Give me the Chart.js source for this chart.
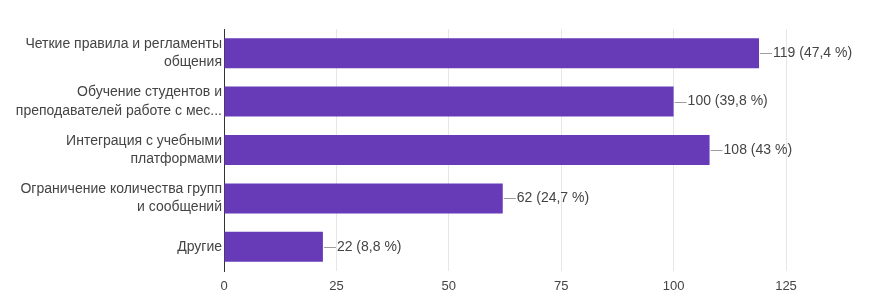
<!DOCTYPE html>
<html>
<head>
<meta charset="utf-8">
<script src="https://cdn.jsdelivr.net/npm/chart.js@4/dist/chart.umd.min.js"></script>
<style>
  html, body { margin: 0; padding: 0; background: #fff; }
  #wrap { width: 873px; height: 295px; position: relative; }
</style>
</head>
<body>
<div id="wrap"><canvas id="chart"></canvas></div>
<script>
// категории (многострочные подписи)
const categories = [
  ["Четкие правила и регламенты", "общения"],
  ["Обучение студентов и", "преподавателей работе с мес..."],
  ["Интеграция с учебными", "платформами"],
  ["Ограничение количества групп", "и сообщений"],
  ["Другие"]
];
const counts = [119, 100, 108, 62, 22];
const percents = ["47,4", "39,8", "43", "24,7", "8,8"];
const xTicks = [0, 25, 50, 75, 100, 125];

const FONT = "'Liberation Sans', Arial, sans-serif";

// подписи значений с короткой линией-выноской
const valueLabels = {
  id: "valueLabels",
  afterDatasetsDraw(chart) {
    const ctx = chart.ctx;
    const meta = chart.getDatasetMeta(0);
    ctx.save();
    ctx.font = "14px " + FONT;
    ctx.textBaseline = "middle";
    meta.data.forEach((bar, i) => {
      const x = bar.x, y = bar.y;
      ctx.strokeStyle = "#9e9e9e";
      ctx.lineWidth = 1;
      ctx.beginPath();
      ctx.moveTo(x + 1, Math.round(y) + 0.5);
      ctx.lineTo(x + 13, Math.round(y) + 0.5);
      ctx.stroke();
      ctx.fillStyle = "#444";
      ctx.fillText(counts[i] + " (" + percents[i] + " %)", x + 14, y);
    });
    ctx.restore();
  }
};

new Chart(document.getElementById("chart"), {
  type: "bar",
  data: {
    labels: categories,
    datasets: [{
      data: counts,
      backgroundColor: "#673ab7",
      barPercentage: 0.62,
      categoryPercentage: 1.0
    }]
  },
  options: {
    indexAxis: "y",
    responsive: true,
    maintainAspectRatio: false,
    animation: false,
    layout: { padding: { top: 29, right: 87, bottom: 0, left: 0 } },
    plugins: {
      legend: { display: false },
      tooltip: { enabled: false }
    },
    scales: {
      x: {
        min: 0,
        max: 125,
        afterBuildTicks: (scale) => { scale.ticks = xTicks.map(v => ({ value: v })); },
        afterFit: (scale) => { scale.height = 24; },
        border: { display: false },
        grid: { color: "#e6e6e6", drawTicks: false },
        ticks: { color: "#444", font: { family: FONT, size: 13 }, padding: 8 }
      },
      y: {
        afterFit: (scale) => { scale.width = 224; },
        border: { display: true, color: "#333", width: 1 },
        grid: { display: false, drawTicks: false, tickLength: 0 },
        ticks: {
          color: "#444",
          font: { family: FONT, size: 14, lineHeight: 1.3 },
          padding: 2
        }
      }
    }
  },
  plugins: [valueLabels]
});
</script>
</body>
</html>
